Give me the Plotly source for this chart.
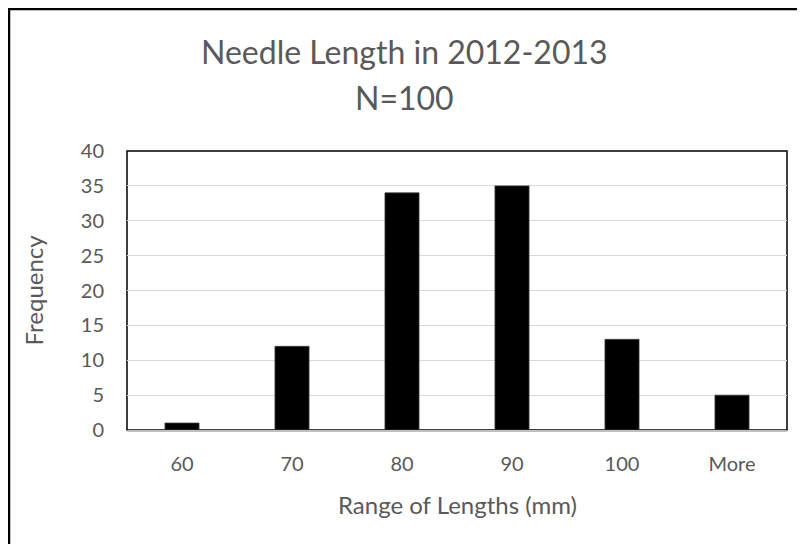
import plotly.graph_objects as go

categories = ["60", "70", "80", "90", "100", "More"]
frequency = [1, 12, 34, 35, 13, 5]
y_ticks = [0, 5, 10, 15, 20, 25, 30, 35, 40]

FONT = "Lato"
TEXT_GREY = "#595959"

fig = go.Figure()
fig.add_trace(
    go.Bar(
        x=categories,
        y=frequency,
        marker_color="black",
        marker_line=dict(color="#404040", width=0.75),
        showlegend=False,
    )
)

# plot-area frame and the outer chart border (runs off the right and bottom edges)
fig.add_shape(type="rect", xref="paper", yref="paper", x0=0, x1=1, y0=0, y1=1,
              line=dict(color="black", width=1.5), layer="below")
fig.add_shape(type="rect", xref="paper", yref="paper", x0=-0.1788, x1=1.1, y0=-0.5, y1=1.509,
              line=dict(color="black", width=2.5), layer="below")

# chart title, two lines
fig.add_annotation(text="Needle Length in 2012-2013", xref="paper", yref="paper",
                   x=0.42, y=1.358, xanchor="center", yanchor="middle",
                   showarrow=False, font=dict(size=32))
fig.add_annotation(text="N=100", xref="paper", yref="paper",
                   x=0.42, y=1.190, xanchor="center", yanchor="middle",
                   showarrow=False, font=dict(size=32))

# axis titles
fig.add_annotation(text="Range of Lengths (mm)", xref="paper", yref="paper",
                   x=0.5, y=-0.2688, xanchor="center", yanchor="middle",
                   showarrow=False, font=dict(size=24))
fig.add_annotation(text="Frequency", xref="paper", yref="paper", textangle=-90,
                   x=-0.1424, y=0.5, xanchor="center", yanchor="middle",
                   showarrow=False, font=dict(size=24))

fig.update_layout(
    width=797,
    height=536,
    margin=dict(l=119, r=18, t=143, b=114),
    bargap=0.69,
    plot_bgcolor="white",
    paper_bgcolor="white",
    font=dict(family=FONT, color=TEXT_GREY, size=20),
    xaxis=dict(
        showline=True,
        linecolor="#bfbfbf",
        linewidth=1.5,
        showgrid=False,
        ticks="outside",
        ticklen=15,
        tickcolor="rgba(0,0,0,0)",
        tickfont=dict(size=20),
    ),
    yaxis=dict(
        range=[0, 40],
        tickvals=y_ticks,
        showgrid=True,
        gridcolor="#d9d9d9",
        gridwidth=1,
        zeroline=False,
        ticks="outside",
        ticklen=18,
        tickcolor="rgba(0,0,0,0)",
        tickfont=dict(size=20),
    ),
)

fig.write_html("out.html")
